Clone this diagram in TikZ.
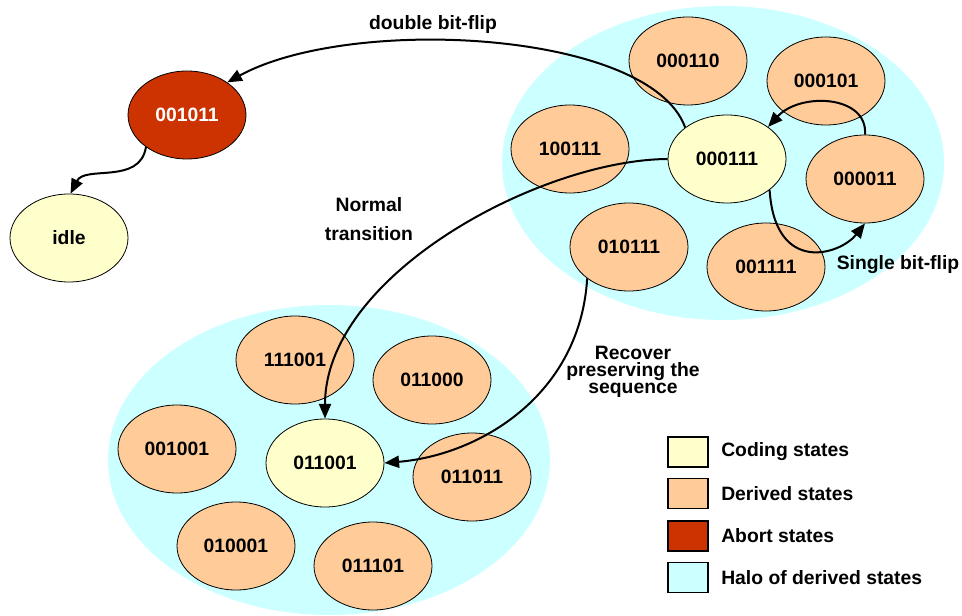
\documentclass[tikz,border=0pt]{standalone}
\usepackage{fontspec}
\setmainfont{Liberation Sans}
\usetikzlibrary{shapes.geometric,arrows.meta}
\definecolor{halo}{HTML}{CCFFFF}
\definecolor{derived}{HTML}{FFCC99}
\definecolor{coding}{HTML}{FFFFCC}
\definecolor{abort}{HTML}{CC3300}
\begin{document}
\begin{tikzpicture}[x=0.75pt,y=-0.75pt,
  every node/.style={font=\fontsize{14.5}{17}\selectfont\bfseries},
  st/.style={ellipse, draw, line width=0.6pt, minimum width=88.5pt, minimum height=66pt, inner sep=0pt},
  der/.style={st, fill=derived},
  cod/.style={st, fill=coding},
  abt/.style={st, fill=abort, text=white},
  haloell/.style={ellipse, fill=halo, inner sep=0pt},
  arr/.style={line width=1.5pt, -{Triangle[length=11pt,width=9pt]}},
  lbl/.style={align=center},
  legbox/.style={draw, line width=0.9pt, minimum width=30pt, minimum height=22.5pt, inner sep=0pt},
  legtxt/.style={anchor=west, inner sep=0pt}]
\useasboundingbox (0,0) rectangle (962,616);

% halos
\node[haloell, minimum width=331.5pt, minimum height=235.5pt] (haloA) at (723,163) {};
\node[haloell, minimum width=331.5pt, minimum height=232.5pt] (haloB) at (329,460) {};

% upper group
\node[der] (n000110) at (688,61) {000110};
\node[der] (n000101) at (826,81) {000101};
\node[der] (n100111) at (570,149) {100111};
\node[cod] (n000111) at (727,159) {000111};
\node[der] (n000011) at (865,179) {000011};
\node[der] (n010111) at (629,247) {010111};
\node[der] (n001111) at (766,267) {001111};

% lower group
\node[der] (n111001) at (295,360) {111001};
\node[der] (n011000) at (432,380) {011000};
\node[der] (n001001) at (177,449) {001001};
\node[cod] (n011001) at (325,463) {011001};
\node[der] (n011011) at (472,477) {011011};
\node[der] (n010001) at (236,546) {010001};
\node[der] (n011101) at (373,566) {011101};

% abort and idle
\node[abt] (n001011) at (187,115) {001011};
\node[cod] (idle) at (69,238) {idle};

% connectors
\draw[arr] (n000111.143) .. controls (650,30) and (350,15) .. (n001011.39);
\draw[arr] (n001011.218) .. controls (140,185) and (85,165) .. (idle.88);
\draw[arr] (n000111.west) .. controls (540,160) and (325,275) .. (n011001.north);
\draw[arr] (n010111.217) .. controls (580,395) and (480,455) .. (n011001.east);
\draw[arr] (n000111.-36) .. controls (775,275) and (840,255) .. (n000011.south);
\draw[arr] (n000011.north) .. controls (868,95) and (800,92) .. (n000111.38);

% labels
\node[lbl] (lDouble) at (433,25) {double bit-flip};
\node[lbl, font=\fontsize{14.5}{22}\selectfont\bfseries] (lNormal) at (369,219) {Normal\\transition};
\node[lbl, font=\fontsize{14.5}{13}\selectfont\bfseries] (lRecover) at (633,372) {Recover\\preserving the\\sequence};
\node[lbl] (lSingle) at (898,265) {Single bit-flip};

% legend
\node[legbox, fill=coding] (k1) at (688,452) {};
\node[legbox, fill=derived] (k2) at (688,493.5) {};
\node[legbox, fill=abort] (k3) at (688,536) {};
\node[legbox, fill=halo] (k4) at (688,577.5) {};
\node[legtxt] (t1) at (721,452) {Coding states};
\node[legtxt] (t2) at (721,494) {Derived states};
\node[legtxt] (t3) at (721,536) {Abort states};
\node[legtxt] (t4) at (721,578) {Halo of derived states};
\end{tikzpicture}
\end{document}
